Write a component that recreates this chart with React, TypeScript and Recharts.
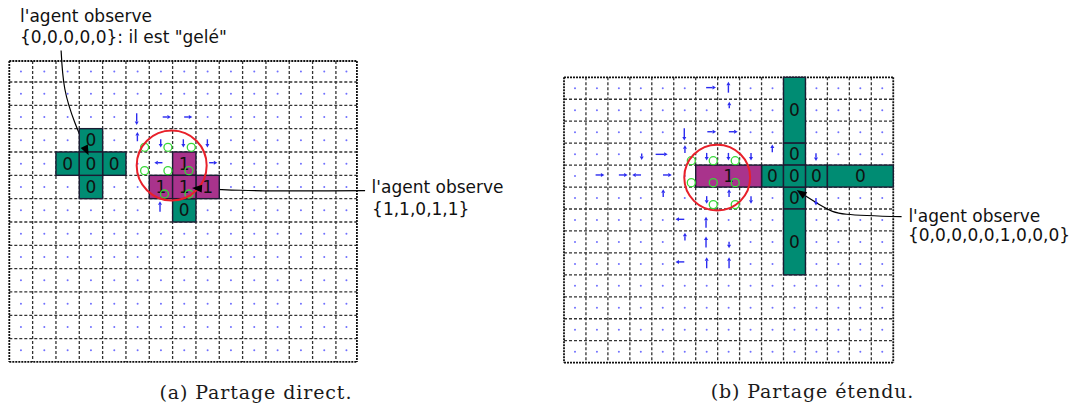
import React from 'react';
import { ComposedChart, XAxis, YAxis, Scatter, Line, ReferenceLine } from 'recharts';

const CHART_H = 410;
const TEAL = '#008c73';
const MAGENTA = '#a9338c';
const EDGE = '#1b1b33';
const QUIVER = '#2b2bf0';

// pixel size of a grid cell and pixel position of cell corner (0,0) inside each chart
const PANEL_A = { left: 0, width: 540, cell: 23.33, ox: 9.3, oy: 58.67 };
const PANEL_B = { left: 540, width: 529, cell: 21.95, ox: 24, oy: 77.3 };

// grid extents in cell units: x0, x1, y0, y1
const extentA = [0, 14.9, 0.1, 13];
const extentB = [0, 15, 0, 13];

// observed cells: col, row, w, h, value (0 = teal, 1 = magenta)
const cellsA = [
  { col: 3, row: 3, w: 1, h: 1, v: '0' },
  { col: 2, row: 4, w: 1, h: 1, v: '0' },
  { col: 4, row: 4, w: 1, h: 1, v: '0' },
  { col: 3, row: 5, w: 1, h: 1, v: '0' },
  { col: 3, row: 4, w: 1, h: 1, v: '0' },
  { col: 7, row: 6, w: 1, h: 1, v: '0' },
  { col: 7, row: 4, w: 1, h: 1, v: '1' },
  { col: 6, row: 5, w: 1, h: 1, v: '1' },
  { col: 8, row: 5, w: 1, h: 1, v: '1' },
  { col: 7, row: 5, w: 1, h: 1, v: '1' },
];
const cellsB = [
  { col: 10, row: 0, w: 1, h: 3, v: '0' },
  { col: 10, row: 3, w: 1, h: 1, v: '0' },
  { col: 10, row: 5, w: 1, h: 1, v: '0' },
  { col: 10, row: 6, w: 1, h: 3, v: '0' },
  { col: 9, row: 4, w: 1, h: 1, v: '0' },
  { col: 11, row: 4, w: 1, h: 1, v: '0' },
  { col: 12, row: 4, w: 3, h: 1, v: '0' },
  { col: 6, row: 4, w: 3, h: 1, v: '1' },
  { col: 10, row: 4, w: 1, h: 1, v: '0' },
];

// quiver arrows: centre (x, y) and vector (u, v) in cell units, y pointing down
const arrowsA = [
  { x: 5.46, y: 2.59, u: 0, v: 0.5 },
  { x: 6.75, y: 2.5, u: 0.35, v: 0 },
  { x: 7.67, y: 2.5, u: 0.35, v: 0 },
  { x: 5.49, y: 3.34, u: 0, v: -0.4 },
  { x: 6.49, y: 3.63, u: 0, v: 0.35 },
  { x: 7.46, y: 3.63, u: 0, v: 0.35 },
  { x: 8.49, y: 3.63, u: 0, v: 0.35 },
  { x: 6.39, y: 4.46, u: -0.35, v: 0 },
  { x: 8.74, y: 4.46, u: 0.35, v: 0 },
  { x: 6.46, y: 6.34, u: 0, v: -0.45 },
];
const arrowsB = [
  { x: 6.7, y: 0.47, u: 0.45, v: 0 },
  { x: 7.49, y: 0.45, u: 0, v: -0.5 },
  { x: 7.53, y: 1.26, u: 0, v: -0.3 },
  { x: 5.48, y: 2.6, u: 0, v: 0.55 },
  { x: 6.73, y: 2.48, u: 0.4, v: 0 },
  { x: 7.71, y: 2.48, u: 0.4, v: 0 },
  { x: 3.54, y: 3.62, u: 0, v: 0.3 },
  { x: 4.45, y: 3.51, u: 0.55, v: 0 },
  { x: 5.51, y: 3.27, u: 0, v: -0.35 },
  { x: 6.5, y: 3.62, u: 0, v: 0.35 },
  { x: 7.49, y: 3.62, u: 0, v: 0.35 },
  { x: 8.52, y: 3.62, u: 0, v: 0.35 },
  { x: 1.64, y: 4.45, u: 0.4, v: 0 },
  { x: 2.7, y: 4.45, u: 0.4, v: 0 },
  { x: 3.31, y: 4.45, u: -0.4, v: 0 },
  { x: 4.71, y: 4.45, u: 0.4, v: 0 },
  { x: 9.49, y: 3.24, u: 0, v: -0.35 },
  { x: 11.48, y: 3.64, u: 0, v: 0.35 },
  { x: 11.48, y: 5.67, u: 0, v: 0.35 },
  { x: 4.52, y: 5.28, u: 0, v: -0.35 },
  { x: 6.5, y: 5.59, u: 0, v: 0.35 },
  { x: 7.52, y: 5.28, u: 0, v: -0.35 },
  { x: 8.52, y: 5.59, u: 0, v: 0.35 },
  { x: 5.28, y: 6.47, u: -0.4, v: 0 },
  { x: 6.47, y: 6.6, u: 0, v: -0.5 },
  { x: 5.51, y: 7.26, u: 0, v: -0.35 },
  { x: 6.47, y: 7.5, u: 0, v: -0.5 },
  { x: 7.52, y: 7.64, u: 0, v: 0.3 },
  { x: 5.28, y: 8.41, u: -0.4, v: 0 },
  { x: 6.5, y: 8.45, u: 0, v: -0.5 },
  { x: 7.52, y: 8.45, u: 0, v: -0.5 },
];

// small green circles (other agents) and the red perception ring
const greensA = [
  { x: 5.8, y: 3.8 }, { x: 6.8, y: 3.8 }, { x: 7.8, y: 3.8 },
  { x: 5.8, y: 4.8 }, { x: 6.8, y: 4.8 }, { x: 7.7, y: 4.8 },
  { x: 6.65, y: 5.8 }, { x: 7.7, y: 5.8 },
];
const greensB = [
  { x: 5.8, y: 3.8 }, { x: 6.8, y: 3.8 }, { x: 7.8, y: 3.8 },
  { x: 5.8, y: 4.8 }, { x: 6.8, y: 4.8 }, { x: 7.8, y: 4.8 },
  { x: 6.8, y: 5.8 }, { x: 7.8, y: 5.8 },
];
const ringA = [{ x: 6.96, y: 4.58, r: 1.5 }];
const ringB = [{ x: 6.98, y: 4.57, r: 1.5 }];

// annotations
const notesA = [
  { x: 0.46, y: -1.585, text: "l'agent observe" },
  { x: 0.46, y: -0.67, text: '{0,0,0,0,0}: il est "gelé"' },
  { x: 15.53, y: 5.77, text: "l'agent observe" },
  { x: 15.55, y: 6.7, text: '{1,1,0,1,1}' },
];
const notesB = [
  { x: 15.69, y: 6.58, text: "l'agent observe" },
  { x: 15.67, y: 7.46, text: '{0,0,0,0,0,1,0,0,0}' },
];
const leaderA1 = [
  { x: 2.22, y: -0.35 }, { x: 2.38, y: 1.3 }, { x: 2.82, y: 2.77 }, { x: 3.3, y: 3.9 },
];
const leaderA2 = [
  { x: 15.25, y: 5.66 }, { x: 12.46, y: 5.67 }, { x: 9.89, y: 5.64 }, { x: 8.2, y: 5.58 },
];
const leaderB = [
  { x: 15.38, y: 6.35 }, { x: 12.88, y: 6.24 }, { x: 11.81, y: 5.9 }, { x: 10.85, y: 5.3 },
];
const headsA = [
  { x: 3.4, y: 4.14, angle: 64 },
  { x: 7.83, y: 5.54, angle: -176 },
];
const headsB = [{ x: 10.6, y: 5.13, angle: -146 }];
const captionA = [{ x: 10.57, y: 14.57, text: '(a) Partage direct.' }];
const captionB = [{ x: 11.32, y: 14.63, text: '(b) Partage étendu.' }];

type Cell = { col: number; row: number; w: number; h: number; v: string };
type Pt = { x: number; y: number };

const cellShape = (cell: number) => (p: any) => {
  const d = p.payload;
  const w = d.w * cell;
  const h = d.h * cell;
  return (
    <g>
      <rect x={p.cx - w / 2} y={p.cy - h / 2} width={w} height={h}
        fill={d.v === '1' ? MAGENTA : TEAL} stroke={EDGE} strokeWidth={1.4} />
      <text x={p.cx} y={p.cy} dy="0.36em" textAnchor="middle" fontFamily="DejaVu Sans"
        fontSize={17} fill="#111">{d.v}</text>
    </g>
  );
};

const quiverShape = (cell: number) => (p: any) => {
  const d = p.payload;
  const hx = (d.u * cell) / 2;
  const hy = (d.v * cell) / 2;
  const x1 = p.cx - hx, y1 = p.cy - hy, x2 = p.cx + hx, y2 = p.cy + hy;
  const len = Math.hypot(x2 - x1, y2 - y1) || 1;
  const ux = (x2 - x1) / len, uy = (y2 - y1) / len;
  const bx = x2 - ux * 3.5, by = y2 - uy * 3.5;
  return (
    <g>
      <line x1={x1} y1={y1} x2={bx} y2={by} stroke={QUIVER} strokeWidth={1.4} />
      <polygon points={`${x2},${y2} ${bx - uy * 2},${by + ux * 2} ${bx + uy * 2},${by - ux * 2}`}
        fill={QUIVER} />
    </g>
  );
};

const ringShape = (cell: number) => (p: any) => (
  <circle cx={p.cx} cy={p.cy} r={p.payload.r * cell} fill="none" stroke="#e8202a" strokeWidth={2} />
);

const greenShape = (p: any) => (
  <circle cx={p.cx} cy={p.cy} r={4} fill="none" stroke="#38d838" strokeWidth={1.3} />
);

const dotShape = (p: any) => <circle cx={p.cx} cy={p.cy} r={1} fill="#6f6fff" />;

const headShape = (p: any) => {
  const a = (p.payload.angle * Math.PI) / 180;
  const ux = Math.cos(a), uy = Math.sin(a);
  const bx = p.cx - ux * 10, by = p.cy - uy * 10;
  return (
    <polygon points={`${p.cx},${p.cy} ${bx - uy * 4},${by + ux * 4} ${bx + uy * 4},${by - ux * 4}`}
      fill="#000" />
  );
};

const noteShape = (p: any) => (
  <text x={p.cx} y={p.cy} fontFamily="DejaVu Sans" fontSize={17} fill="#111">{p.payload.text}</text>
);

const captionShape = (p: any) => (
  <text x={p.cx} y={p.cy} textAnchor="middle" fontFamily="DejaVu Serif" fontSize={19}
    letterSpacing={0.9} fill="#1a1a1a">{p.payload.text}</text>
);

const Panel = ({ geo, extent, cells, arrows, greens, ring, notes, leaders, heads, caption }: any) => {
  const { left, width, cell, ox, oy } = geo;
  const [x0, x1, y0, y1] = extent;
  const xDomain = [-ox / cell, (width - ox) / cell];
  const yDomain = [-oy / cell, (CHART_H - oy) / cell];

  const cols: number[] = [];
  for (let c = Math.ceil(x0); c < x1; c++) cols.push(c);
  const rows: number[] = [];
  for (let r = Math.floor(y0); r < y1; r++) rows.push(r);

  const covered = new Set<string>();
  (cells as Cell[]).forEach((c) => {
    for (let i = 0; i < c.w; i++) for (let j = 0; j < c.h; j++) covered.add(`${c.col + i},${c.row + j}`);
  });
  (arrows as Pt[]).forEach((a) => covered.add(`${Math.floor(a.x)},${Math.floor(a.y)}`));
  const dots: Pt[] = [];
  cols.forEach((c) =>
    rows.forEach((r) => {
      if (covered.has(`${c},${r}`)) return;
      dots.push({ x: (Math.max(c, x0) + Math.min(c + 1, x1)) / 2, y: (Math.max(r, y0) + Math.min(r + 1, y1)) / 2 });
    })
  );

  const cellData = (cells as Cell[]).map((c) => ({ x: c.col + c.w / 2, y: c.row + c.h / 2, w: c.w, h: c.h, v: c.v }));
  const inner = { stroke: '#333', strokeWidth: 1.3, strokeDasharray: '3 2' };
  const border = { stroke: '#111', strokeWidth: 1.8, strokeDasharray: '2 1' };

  return (
    <div style={{ position: 'absolute', left, top: 0 }}>
      <ComposedChart width={width} height={CHART_H} margin={{ top: 0, right: 0, bottom: 0, left: 0 }}>
        <XAxis type="number" dataKey="x" domain={xDomain} allowDataOverflow hide />
        <YAxis type="number" dataKey="y" domain={yDomain} allowDataOverflow reversed hide />
        {cols.filter((c) => c > x0).map((c) => (
          <ReferenceLine key={`v${c}`} segment={[{ x: c, y: y0 }, { x: c, y: y1 }]} {...inner} />
        ))}
        {rows.filter((r) => r > y0).map((r) => (
          <ReferenceLine key={`h${r}`} segment={[{ x: x0, y: r }, { x: x1, y: r }]} {...inner} />
        ))}
        <ReferenceLine segment={[{ x: x0, y: y0 }, { x: x1, y: y0 }]} {...border} />
        <ReferenceLine segment={[{ x: x0, y: y1 }, { x: x1, y: y1 }]} {...border} />
        <ReferenceLine segment={[{ x: x0, y: y0 }, { x: x0, y: y1 }]} {...border} />
        <ReferenceLine segment={[{ x: x1, y: y0 }, { x: x1, y: y1 }]} {...border} />
        <Scatter data={dots} shape={dotShape} isAnimationActive={false} />
        <Scatter data={arrows} shape={quiverShape(cell)} isAnimationActive={false} />
        <Scatter data={cellData} shape={cellShape(cell)} isAnimationActive={false} />
        <Scatter data={greens} shape={greenShape} isAnimationActive={false} />
        <Scatter data={ring} shape={ringShape(cell)} isAnimationActive={false} />
        {leaders.map((l: Pt[], i: number) => (
          <Line key={`l${i}`} data={l} dataKey="y" type="natural" stroke="#000" strokeWidth={1.2}
            dot={false} isAnimationActive={false} />
        ))}
        <Scatter data={heads} shape={headShape} isAnimationActive={false} />
        <Scatter data={notes} shape={noteShape} isAnimationActive={false} />
        <Scatter data={caption} shape={captionShape} isAnimationActive={false} />
      </ComposedChart>
    </div>
  );
}

export default function App() {
  return (
    <div style={{ position: 'absolute', left: 0, top: 0, width: 1069, height: CHART_H, background: '#fff' }}>
      <Panel geo={PANEL_A} extent={extentA} cells={cellsA} arrows={arrowsA} greens={greensA} ring={ringA}
        notes={notesA} leaders={[leaderA1, leaderA2]} heads={headsA} caption={captionA} />
      <Panel geo={PANEL_B} extent={extentB} cells={cellsB} arrows={arrowsB} greens={greensB} ring={ringB}
        notes={notesB} leaders={[leaderB]} heads={headsB} caption={captionB} />
    </div>
  );
}
